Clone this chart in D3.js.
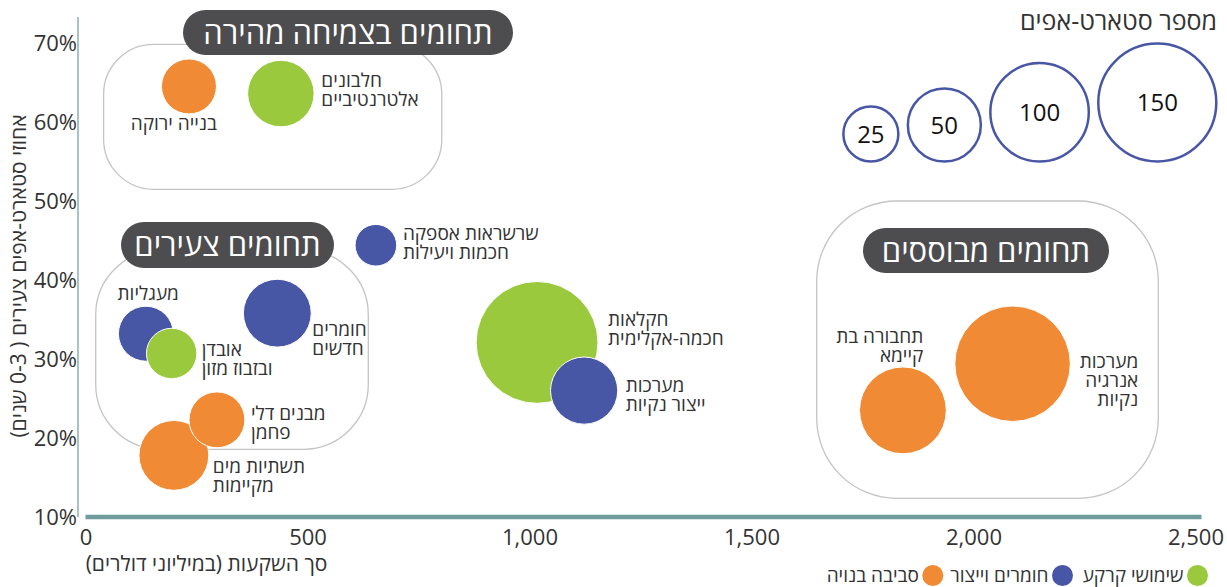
<!DOCTYPE html>
<html>
<head>
<meta charset="utf-8">
<script src="https://cdn.jsdelivr.net/npm/d3@7"></script>
<style>
  body { margin: 0; background: #fff; }
  svg { font-family: "Open Sans", "DejaVu Sans", sans-serif; }
</style>
</head>
<body>
<div id="chart"></div>
<script>
// bubble data
const labels = [
  ["בנייה ירוקה"],
  ["חלבונים", "אלטרנטיביים"],
  ["שרשראות אספקה", "חכמות ויעילות"],
  ["מעגליות"],
  ["אובדן", "ובזבוז מזון"],
  ["חומרים", "חדשים"],
  ["מבנים דלי", "פחמן"],
  ["תשתיות מים", "מקיימות"],
  ["חקלאות", "חכמה-אקלימית"],
  ["מערכות", "ייצור נקיות"],
  ["תחבורה בת", "קיימא"],
  ["מערכות", "אנרגיה", "נקיות"]
];
const investment = [233, 440, 654, 136, 194, 432, 296, 199, 1017, 1123, 1841, 2088];
const youngShare = [0.645, 0.636, 0.444, 0.332, 0.307, 0.358, 0.223, 0.178, 0.321, 0.260, 0.235, 0.294];
const startups = [25, 40, 12, 25, 20, 42, 26, 45, 161, 41, 75, 143];
const sectors = ["built", "land", "materials", "materials", "land", "materials", "built", "built", "land", "materials", "built", "built"];

const sectorKeys = ["land", "materials", "built"];
const sectorNames = ["שימושי קרקע", "חומרים וייצור", "סביבה בנויה"];
const sectorColors = ["#9ac93d", "#4856a6", "#f08a34"];

const xTicks = [0, 500, 1000, 1500, 2000, 2500];
const yTicks = [0.1, 0.2, 0.3, 0.4, 0.5, 0.6, 0.7];
const sizeLegendValues = [25, 50, 100, 150];
const groupTitles = ["תחומים בצמיחה מהירה", "תחומים צעירים", "תחומים מבוססים"];

const xTitle = "סך השקעות (במיליוני דולרים)";
const yTitle = "אחוזי סטארט-אפים צעירים ( 0-3 שנים)";
const sizeTitle = "מספר סטארט-אפים";

// label placement relative to bubble centre: anchor side, dx, dy (first baseline)
const labelLayout = [
  ["end", 28, 43.5], ["start", 40.5, -7], ["start", 27, -5.5], ["end", 33, -34],
  ["start", 30, 3], ["start", 35, 23], ["start", 34, 0], ["start", 39, 17.6],
  ["start", 71, -16], ["start", 41.6, 1.5], ["end", 20.4, -67.4], ["end", 125.7, 4]
];
// group frames and title pills (pixels)
const groupBoxes = [
  { x: 103.6, y: 44.3, w: 338.2, h: 145, rx: 50, px: 183, py: 10, pw: 330, ph: 45 },
  { x: 95.7, y: 250, w: 272.6, h: 199.3, rx: 65, px: 121, py: 222, pw: 213, ph: 46 },
  { x: 816.7, y: 201, w: 341.6, h: 297.3, rx: 80, px: 863, py: 228, pw: 246, ph: 45 }
];

const width = 1227, height = 587;
const axisColor = "#6f9c9d";
const textColor = "#333";

const svg = d3.select("#chart").append("svg")
  .attr("width", width)
  .attr("height", height);

const x = d3.scaleLinear().domain([0, 2500]).range([85.5, 1195.5]);
const y = d3.scaleLinear().domain([0.1, 0.7]).range([517, 43]);
const r = d3.scaleSqrt().domain([0, 150]).range([5.75, 59]);
const color = d3.scaleOrdinal().domain(sectorKeys).range(sectorColors);

// axes
svg.append("line")
  .attr("x1", 78).attr("x2", 78)
  .attr("y1", 17).attr("y2", y(0.1))
  .attr("stroke", axisColor).attr("stroke-width", 1.2);

svg.append("line")
  .attr("x1", x(0)).attr("x2", x(2500) + 6)
  .attr("y1", y(0.1)).attr("y2", y(0.1))
  .attr("stroke", axisColor).attr("stroke-width", 4.5);

const xAxis = svg.append("g")
  .attr("transform", `translate(0,${y(0.1)})`)
  .call(d3.axisBottom(x).tickValues(xTicks).tickFormat(d3.format(",")).tickSize(0).tickPadding(12));

const yAxis = svg.append("g")
  .attr("transform", "translate(77,0)")
  .call(d3.axisLeft(y).tickValues(yTicks).tickFormat(d3.format(".0%")).tickSize(0).tickPadding(0));

[xAxis, yAxis].forEach(g => {
  g.select(".domain").remove();
  g.selectAll("text")
    .attr("fill", textColor)
    .style("font-size", "22px")
    .style("font-family", "\"Open Sans\", sans-serif");
});

svg.append("text")
  .attr("x", 206.5)
  .attr("y", 571)
  .attr("text-anchor", "middle")
  .attr("direction", "rtl")
  .attr("fill", textColor)
  .style("font-size", "21px")
  .text(xTitle);

svg.append("text")
  .attr("transform", "translate(26,276) rotate(-90)")
  .attr("text-anchor", "middle")
  .attr("direction", "rtl")
  .attr("fill", textColor)
  .style("font-size", "21px")
  .text(yTitle);

// group frames
const groups = svg.append("g");
groups.selectAll("rect.frame")
  .data(groupBoxes)
  .enter().append("rect")
  .attr("class", "frame")
  .attr("x", d => d.x).attr("y", d => d.y)
  .attr("width", d => d.w).attr("height", d => d.h)
  .attr("rx", d => d.rx).attr("ry", d => d.rx)
  .attr("fill", "none")
  .attr("stroke", "#c4c4c4")
  .attr("stroke-width", 1.3);

// bubbles
const bubbles = d3.range(labels.length)
  .map(i => ({ i, label: labels[i], inv: investment[i], share: youngShare[i], n: startups[i], sector: sectors[i] }))
  .sort((a, b) => b.n - a.n);

svg.append("g").selectAll("circle")
  .data(bubbles)
  .enter().append("circle")
  .attr("cx", d => x(d.inv))
  .attr("cy", d => y(d.share))
  .attr("r", d => r(d.n))
  .attr("fill", d => color(d.sector))
  .attr("stroke", "#fff")
  .attr("stroke-width", 1);

// pills on top of frames
const pills = svg.append("g").selectAll("g")
  .data(groupBoxes)
  .enter().append("g");

pills.append("rect")
  .attr("x", d => d.px).attr("y", d => d.py)
  .attr("width", d => d.pw).attr("height", d => d.ph)
  .attr("rx", d => d.ph / 2).attr("ry", d => d.ph / 2)
  .attr("fill", "#4d4d4f");

pills.append("text")
  .attr("x", d => d.px + d.pw / 2)
  .attr("y", d => d.py + d.ph / 2)
  .attr("dy", "0.36em")
  .attr("text-anchor", "middle")
  .attr("fill", "#fff")
  .style("font-size", "31px")
  .text((d, i) => groupTitles[i]);

// bubble labels
const lineHeight = 19;
const labelG = svg.append("g").selectAll("text")
  .data(bubbles)
  .enter().append("text")
  .attr("text-anchor", d => labelLayout[d.i][0])
  .attr("fill", textColor)
  .style("font-size", "19px");

labelG.selectAll("tspan")
  .data(d => d.label.map((line, k) => ({ line, k, d })))
  .enter().append("tspan")
  .attr("x", t => x(t.d.inv) + labelLayout[t.d.i][1])
  .attr("y", t => y(t.d.share) + labelLayout[t.d.i][2] + t.k * lineHeight)
  .text(t => t.line);

// size legend
svg.append("text")
  .attr("x", 1217)
  .attr("y", 30)
  .attr("text-anchor", "end")
  .attr("fill", textColor)
  .style("font-size", "25px")
  .text(sizeTitle);

const legendBottom = 161.5;
let cursor = 1216.3;
const sizeItems = sizeLegendValues.slice().reverse().map(v => {
  const rr = r(v);
  const cx = cursor - rr;
  cursor = cx - rr - 9.5;
  return { v, cx, cy: legendBottom - rr, rr };
});

const sizeG = svg.append("g").selectAll("g")
  .data(sizeItems)
  .enter().append("g");

sizeG.append("circle")
  .attr("cx", d => d.cx).attr("cy", d => d.cy).attr("r", d => d.rr)
  .attr("fill", "#fff")
  .attr("stroke", "#4856a6")
  .attr("stroke-width", 2.5);

sizeG.append("text")
  .attr("x", d => d.cx).attr("y", d => d.cy)
  .attr("dy", "0.36em")
  .attr("text-anchor", "middle")
  .attr("fill", "#111")
  .style("font-size", "24px")
  .text(d => d.v);

// colour legend
const legendDots = [1197.5, 1062.5, 932.8];
const colorLegend = svg.append("g").selectAll("g")
  .data(sectorKeys)
  .enter().append("g");

colorLegend.append("circle")
  .attr("cx", (d, i) => legendDots[i])
  .attr("cy", 575.5)
  .attr("r", 10.5)
  .attr("fill", d => color(d));

colorLegend.append("text")
  .attr("x", (d, i) => legendDots[i] - 14)
  .attr("y", 582)
  .attr("text-anchor", "end")
  .attr("fill", textColor)
  .style("font-size", "19px")
  .text((d, i) => sectorNames[i]);
</script>
</body>
</html>
